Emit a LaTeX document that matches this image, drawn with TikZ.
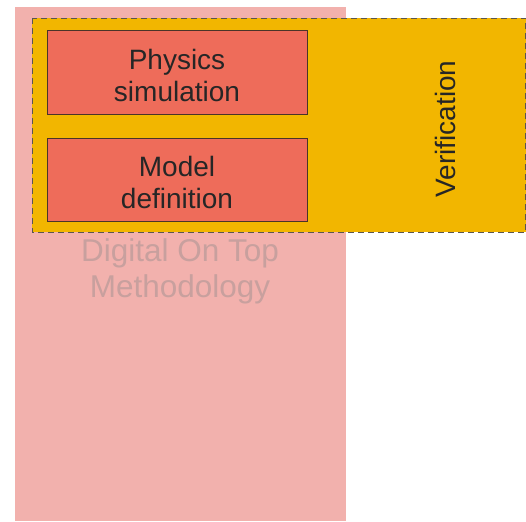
\documentclass[tikz,border=0pt]{standalone}
\usepackage{fontspec}
\setmainfont{Liberation Sans}
\definecolor{pinkbg}{HTML}{F2B1AD}
\definecolor{verifyfill}{HTML}{F2B600}
\definecolor{stepfill}{HTML}{EE6C5A}
\definecolor{stepline}{HTML}{4A3428}
\definecolor{dashline}{HTML}{5A5550}
\definecolor{fadedtext}{HTML}{C8A09E}
\begin{document}
\begin{tikzpicture}[x=1pt,y=-1pt,
  stagebox/.style={draw=stepline, line width=0.8pt, fill=stepfill},
  boxtext/.style={font=\fontsize{28}{32}\selectfont, text=black!85, align=center},
]
\useasboundingbox (0,0) rectangle (526,521);
% methodology background
\fill[pinkbg] (15,7) rectangle (346,521);
% verification region
\filldraw[fill=verifyfill, draw=dashline, dash pattern=on 6pt off 4pt, line width=0.9pt]
  (32,18) rectangle (525.5,232);
% the two stages
\draw[stagebox] (47,30) rectangle (307,114);
\draw[stagebox] (47,138) rectangle (307,221);
\node[boxtext] (phys) at (177,75) {Physics\\simulation};
\node[boxtext] (model) at (177,182) {Model\\definition};
\node[boxtext, rotate=90] (verif) at (445,129) {Verification};
\node[boxtext, font=\fontsize{31.5}{36}\selectfont, text=fadedtext] (dot) at (180,271) {Digital On Top\\Methodology};
\end{tikzpicture}
\end{document}
